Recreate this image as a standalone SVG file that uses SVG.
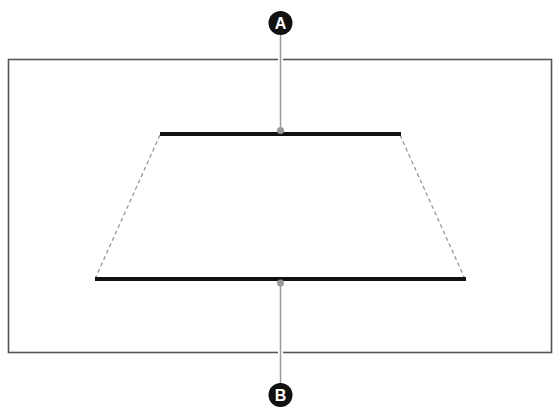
<svg xmlns="http://www.w3.org/2000/svg" width="556" height="410" viewBox="0 0 556 410">
<style>
.frame{fill:none;stroke:#555;stroke-width:1.6}
.bar{stroke:#111;stroke-width:4;stroke-linecap:butt}
.dash{stroke:#999;stroke-width:1.3;stroke-dasharray:4 3;fill:none}
.lead{stroke:#9a9a9a;stroke-width:1.5}
.halo{stroke:#fff;stroke-width:5}
.dot{fill:#999}
.badge{fill:#111}
.lbl{fill:#fff;font-family:"Liberation Sans",Arial,sans-serif;font-weight:bold;font-size:16px;text-anchor:middle}
</style>
<rect x="0" y="0" width="556" height="410" fill="#fff"/>
<g id="frame"><rect class="frame" x="8.5" y="59.5" width="543" height="293"/></g>
<g id="connectors">
<line class="dash" x1="160" y1="135" x2="95" y2="279"/>
<line class="dash" x1="400" y1="135" x2="465" y2="279"/>
<line class="halo" x1="280.5" y1="56" x2="280.5" y2="63"/>
<line class="halo" x1="280.5" y1="349" x2="280.5" y2="356"/>
<line class="lead" x1="280.5" y1="34" x2="280.5" y2="132"/>
<line class="lead" x1="280.5" y1="282" x2="280.5" y2="385"/>
</g>
<g id="top-bar"><line class="bar" x1="160" y1="134" x2="401" y2="134"/><circle class="dot" cx="280.5" cy="130.5" r="3.5"/></g>
<g id="bottom-bar"><line class="bar" x1="95" y1="279" x2="466" y2="279"/><circle class="dot" cx="280.5" cy="283" r="3.5"/></g>
<g id="A"><circle class="badge" cx="280.5" cy="23" r="12"/><text class="lbl" x="280.5" y="28.5">A</text></g>
<g id="B"><circle class="badge" cx="280.5" cy="395" r="12"/><text class="lbl" x="280.5" y="400.5">B</text></g>
</svg>
